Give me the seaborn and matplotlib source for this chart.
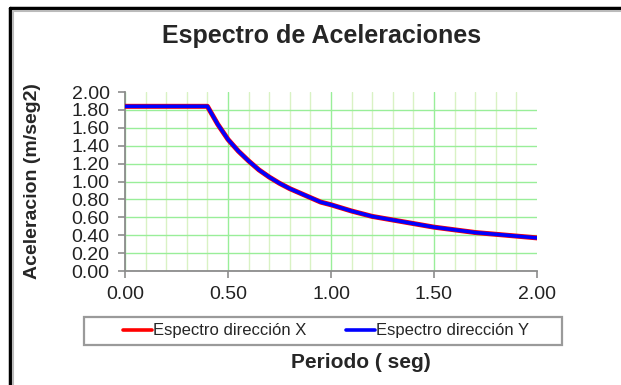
import matplotlib
matplotlib.use("Agg")
import matplotlib.pyplot as plt
import matplotlib.lines as mlines
import matplotlib.patches as mpatches
import pandas as pd
import seaborn as sns
from matplotlib.ticker import MultipleLocator, FormatStrFormatter

# Periodo (seg) and spectral acceleration (m/seg2)
periodo = [0.00, 0.05, 0.10, 0.15, 0.20, 0.25, 0.30, 0.35, 0.40, 0.45,
           0.50, 0.55, 0.60, 0.65, 0.70, 0.75, 0.80, 0.85, 0.90, 0.95,
           1.00, 1.10, 1.20, 1.30, 1.40, 1.50, 1.60, 1.70, 1.80, 1.90, 2.00]
acel_x = [1.84, 1.84, 1.84, 1.84, 1.84, 1.84, 1.84, 1.84, 1.84, 1.64,
          1.47, 1.34, 1.23, 1.13, 1.05, 0.98, 0.92, 0.87, 0.82, 0.77,
          0.74, 0.67, 0.61, 0.57, 0.53, 0.49, 0.46, 0.43, 0.41, 0.39, 0.37]
acel_y = [1.84, 1.84, 1.84, 1.84, 1.84, 1.84, 1.84, 1.84, 1.84, 1.64,
          1.47, 1.34, 1.23, 1.13, 1.05, 0.98, 0.92, 0.87, 0.82, 0.77,
          0.74, 0.67, 0.61, 0.57, 0.53, 0.49, 0.46, 0.43, 0.41, 0.39, 0.37]
series = ["Espectro dirección X", "Espectro dirección Y"]
colores = ["#ff0000", "#0000ff"]

df = pd.DataFrame({"Periodo": periodo, series[0]: acel_x, series[1]: acel_y})
df = df.melt(id_vars="Periodo", var_name="serie", value_name="Aceleracion")

sns.set_style("white")
plt.rcParams["font.family"] = ["Liberation Sans", "DejaVu Sans"]

fig = plt.figure(figsize=(6.21, 3.85), dpi=100)
ax = fig.add_axes([125 / 621, 1 - 271 / 385, 412 / 621, 179 / 385])

sns.lineplot(data=df[df.serie == series[0]], x="Periodo", y="Aceleracion",
             color=colores[0], linewidth=3.6, ax=ax, legend=False, zorder=3)
sns.lineplot(data=df[df.serie == series[1]], x="Periodo", y="Aceleracion",
             color=colores[1], linewidth=2.6, ax=ax, legend=False, zorder=4)

ax.set_xlim(0, 2.0)
ax.set_ylim(0, 2.0)
ax.xaxis.set_major_locator(MultipleLocator(0.5))
ax.xaxis.set_minor_locator(MultipleLocator(0.1))
ax.yaxis.set_major_locator(MultipleLocator(0.2))
ax.xaxis.set_major_formatter(FormatStrFormatter("%.2f"))
ax.yaxis.set_major_formatter(FormatStrFormatter("%.2f"))

ax.grid(True, axis="x", which="minor", color="#d9f2c4", linewidth=1.0)
ax.grid(True, axis="x", which="major", color="#99ee99", linewidth=1.0)
ax.grid(True, axis="y", which="major", color="#99ee99", linewidth=1.0)

for s in ["top", "right"]:
    ax.spines[s].set_visible(False)
for s in ["left", "bottom"]:
    ax.spines[s].set_color("#8c8c8c")
    ax.spines[s].set_linewidth(1.3)
ax.tick_params(axis="both", which="major", direction="out", length=5,
               bottom=True, left=True, width=1.2,
               color="#8c8c8c", labelsize=14, labelcolor="#222222", pad=6)
ax.tick_params(axis="both", which="minor", length=0)

ax.set_xlabel("")
ax.set_ylabel("Aceleracion (m/seg2)", fontsize=14, fontweight="bold")
ax.yaxis.set_label_coords(-84 / 412, 0.5)

fig.text(322 / 621, 1 - 36 / 385, "Espectro de Aceleraciones",
         ha="center", va="center", fontsize=18, fontweight="bold")
fig.text(361 / 621, 1 - 363 / 385, "Periodo ( seg)",
         ha="center", va="center", fontsize=15, fontweight="bold")

# legend box
fig.add_artist(mpatches.Rectangle((84 / 621, 1 - 345 / 385), 478 / 621,
                                  28 / 385, transform=fig.transFigure,
                                  facecolor="white", edgecolor="#9a9a9a",
                                  linewidth=1.6))
handles = [mlines.Line2D([], [], color=c, linewidth=2.6) for c in colores]
fig.legend(handles, series, loc="center",
           bbox_to_anchor=(326 / 621, 1 - 331 / 385), ncol=2,
           fontsize=12, frameon=False, handlelength=1.75,
           handletextpad=0.05, columnspacing=2.4, borderpad=0.2)

# outer chart frame (top and left edges visible)
fig.add_artist(mlines.Line2D([10 / 621, 10 / 621], [-0.01, 1 - 8 / 385],
                             color="black", linewidth=2.5))
fig.add_artist(mlines.Line2D([10 / 621, 1.01], [1 - 8 / 385, 1 - 8 / 385],
                             color="black", linewidth=2.5))
fig.add_artist(mlines.Line2D([13 / 621, 13 / 621], [-0.01, 1 - 11 / 385],
                             color="#bbbbbb", linewidth=1.5))
fig.add_artist(mlines.Line2D([13 / 621, 1.01], [1 - 11 / 385, 1 - 11 / 385],
                             color="#bbbbbb", linewidth=1.5))

# hide the gridlines lying on the top and right edges of the plot area
fig.canvas.draw()
for t in ax.yaxis.get_major_ticks():
    if abs(t.get_loc() - 2.0) < 1e-6:
        t.gridline.set_visible(False)
for t in ax.xaxis.get_major_ticks():
    if abs(t.get_loc() - 2.0) < 1e-6:
        t.gridline.set_visible(False)

fig.savefig("out.png", dpi=100)
